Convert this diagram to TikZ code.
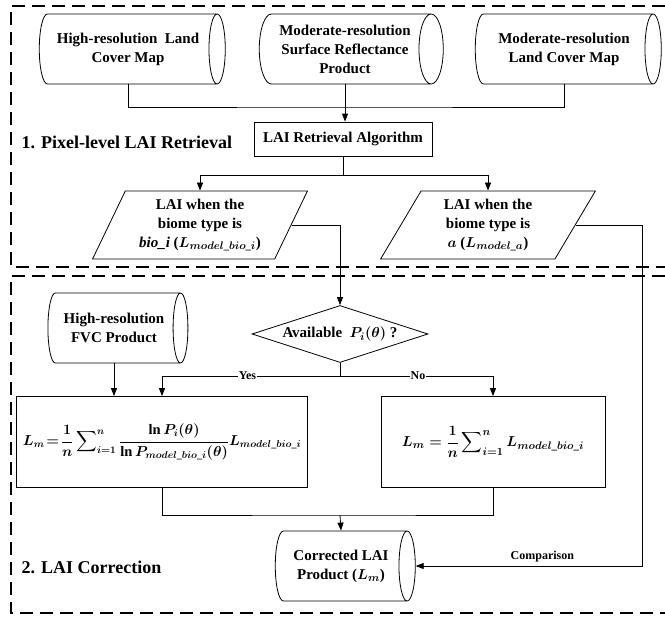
\documentclass[tikz,border=0pt]{standalone}
\usepackage{amsmath}
\usepackage{fontspec}
\setmainfont{Liberation Serif}
\usetikzlibrary{shapes.geometric,arrows.meta}

\begin{document}
\begin{tikzpicture}[x=1pt, y=-1pt, line width=0.8pt,
  font=\fontsize{15}{19}\selectfont\bfseries\boldmath,
  flow/.style={-{Triangle[length=8pt,width=6pt]}},
  sect/.style={line width=1.8pt, dash pattern=on 13pt off 7pt},
  store/.style={draw, cylinder, aspect=0.5, align=center, inner sep=0pt},
  proc/.style={draw, rectangle, align=center, inner sep=0pt},
  io/.style={draw, trapezium, trapezium left angle=63, trapezium right angle=117,
    trapezium stretches=true, align=center, inner sep=0pt},
  choice/.style={draw, diamond, aspect=3.1, inner sep=1pt},
  tag/.style={fill=white, inner sep=1pt, font=\fontsize{12}{14}\selectfont\bfseries}]
\useasboundingbox (0,0) rectangle (665,624);

% the two dashed stages
\draw[sect] (665,6) -- (11,6) -- (11,267) -- (665,267);
\draw[sect] (665,276) -- (11,276) -- (11,613) -- (665,613);
\node[anchor=west, font=\fontsize{18}{22}\selectfont\bfseries] (stage1) at (18,142) {1. Pixel-level LAI Retrieval};
\node[anchor=west, font=\fontsize{18}{22}\selectfont\bfseries] (stage2) at (18,567) {2. LAI Correction};

% stage 1
\node[store, minimum height=186pt, minimum width=70pt] (hrlc) at (128,49) {High-resolution\ \ Land\\Cover Map};
\node[store, minimum height=184pt, minimum width=70pt] (msrp) at (345,49) {Moderate-resolution\\Surface Reflectance\\Product};
\node[store, minimum height=186pt, minimum width=70pt] (mrlc) at (564,49) {Moderate-resolution\\Land Cover Map};
\node[proc, minimum width=178pt, minimum height=34pt] (retr) at (343,139) {LAI Retrieval Algorithm};
\node[io, minimum width=215pt, minimum height=68pt] (bio) at (200,225) {LAI when the\\biome type is\\\textit{bio\_i} ($L_{model\_bio\_i}$)};
\node[io, minimum width=215pt, minimum height=68pt] (biea) at (488,225) {LAI when the\\biome type is\\$a$ ($L_{model\_a}$)};

\coordinate (join1) at (343,107);
\coordinate (split1) at (343,175);
\draw (hrlc.south) |- (join1) -| (mrlc.south);
\draw[flow] (msrp.south) -- (msrp.south |- retr.north);
\draw (retr.south) -- (split1);
\draw[flow] (split1) -| (bio.north);
\draw[flow] (split1) -| (biea.north);

% stage 2
\node[store, minimum height=140pt, minimum width=70pt] (fvc) at (114,328) {High-resolution\\FVC Product};
\node[choice, minimum width=176pt, minimum height=57pt] (avail) at (340,334) {Available\ \ $P_i(\theta)$ ?};
\node[proc, minimum width=291pt, minimum height=91pt, font=\fontsize{14.5}{18}\selectfont\bfseries\boldmath] (eqa) at (162,442)
  {$\displaystyle L_m\!=\!\frac{1}{n}\sum\nolimits_{i=1}^{n}\frac{\ln P_i(\theta)}{\ln P_{model\_bio\_i}(\theta)}L_{model\_bio\_i}$};
\node[proc, minimum width=224pt, minimum height=91pt, font=\fontsize{15.5}{19}\selectfont\bfseries\boldmath] (eqb) at (493,442)
  {$\displaystyle L_m=\frac{1}{n}\sum\nolimits_{i=1}^{n}L_{model\_bio\_i}$};
\node[store, minimum height=140pt, minimum width=70pt] (corr) at (341,566) {Corrected LAI\\Product ($L_m$)};

\coordinate (split2) at (340,376);
\coordinate (join2) at (340,515);
\coordinate (rail) at (642,0);
\draw[flow] (bio.east) -| (avail.north);
\draw (avail.south) -- (split2);
\draw[flow] (split2) -| node[tag, pos=0.26] {Yes} (eqa.north);
\draw[flow] (split2) -| node[tag, pos=0.255] {No} (eqb.north);
\draw[flow] (fvc.south) -- (fvc.south |- eqa.north);
\draw (eqa.south) |- (join2) -| (eqb.south);
\draw[flow] (join2) -- (corr.north);
\draw[flow] (biea.east) -| (rail |- corr.east) -- node[tag, above=3pt, fill=none, pos=0.44] {Comparison} (corr.east);
\end{tikzpicture}
\end{document}
